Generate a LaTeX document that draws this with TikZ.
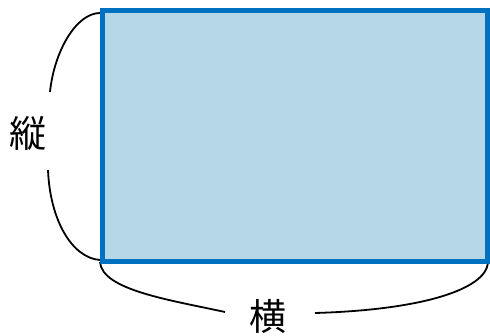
\documentclass[tikz,border=0pt]{standalone}
\usepackage{fontspec}
\newfontfamily\cjk{Noto Sans CJK JP}
\definecolor{boxfill}{RGB}{182,215,232}
\definecolor{boxline}{RGB}{0,112,192}
\tikzset{
  area/.style={draw=boxline, fill=boxfill, line width=5pt, inner sep=0pt, minimum width=385pt, minimum height=251pt},
  lbl/.style={font=\cjk\fontsize{37}{40}\selectfont, inner sep=0pt},
  brace/.style={line width=1.8pt, black}
}
\begin{document}
\begin{tikzpicture}[x=1pt,y=-1pt]
\useasboundingbox (0,0) rectangle (490,336);
\coordinate (lt) at (50,92);
\coordinate (lb) at (48,170);
\coordinate (bl) at (225,312);
\coordinate (br) at (315,313);
\node[lbl] (tate) at (28,133) {縦};
\node[lbl] (yoko) at (268,316) {横};
\draw[brace] (100,13) .. controls (76,13) and (54,52) .. (lt);
\draw[brace] (lb) .. controls (50,220) and (72,258) .. (100,260);
\draw[brace] (100,262) .. controls (102,290) and (170,300) .. (bl);
\draw[brace] (br) .. controls (420,310) and (485,290) .. (488,263);
\node[area] (rect) at (295,136) {};
\end{tikzpicture}
\end{document}
